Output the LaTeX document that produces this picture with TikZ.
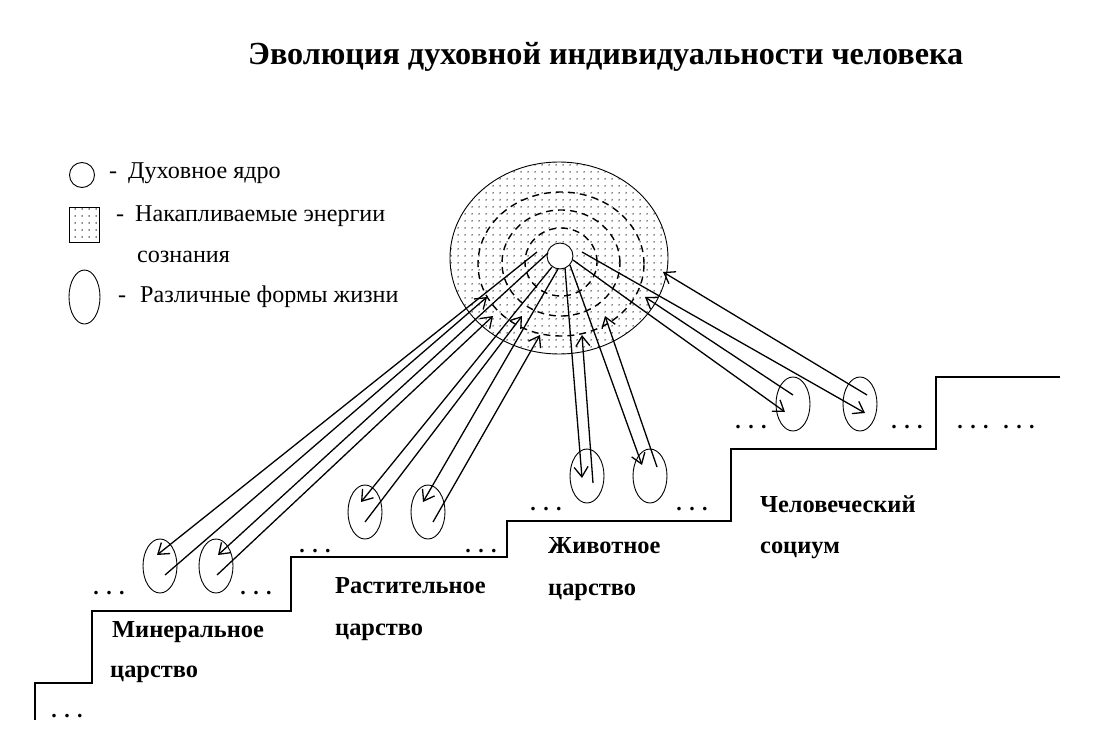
\documentclass[tikz,border=0pt]{standalone}
\usepackage{fontspec}
\setmainfont{Liberation Serif}
\usetikzlibrary{arrows.meta,shapes.geometric,patterns.meta}

\tikzdeclarepattern{
  name=sparsedots,
  type=uncolored,
  bounding box={(0,0) and (6.5bp,6.5bp)},
  tile size={(6.5bp,6.5bp)},
  code={\fill (3.25bp,3.25bp) circle (0.8bp);}
}

\begin{document}
\begin{tikzpicture}[x=1bp,y=-1bp,
  txt/.style={anchor=base west, inner sep=0, font=\fontsize{24.2}{28}\selectfont},
  lab/.style={anchor=base west, inner sep=0, font=\fontsize{24.5}{28}\selectfont\bfseries},
  dotsx/.style={anchor=base, inner sep=0, font=\fontsize{22}{26}\selectfont\bfseries},
  life/.style={ellipse, draw, line width=0.9bp, minimum width=34bp, minimum height=54bp, inner sep=0},
  arr/.style={line width=1.3bp, -{Straight Barb[length=10bp,width=14bp,line width=1.3bp]}},
  ring/.style={line width=1.4bp, dash pattern=on 7bp off 5bp},
  stair/.style={line width=1.6bp}
]
\useasboundingbox (0,0) rectangle (1097,747);

% title
\node[anchor=base west, inner sep=0, font=\fontsize{32.3}{36}\selectfont\bfseries] (title) at (248,65) {Эволюция духовной индивидуальности человека};

% legend
\node[circle, draw, line width=0.9bp, minimum size=25bp, inner sep=0] (lcore) at (82,175) {};
\node[txt] (ltext1) at (109,178) {-\hspace{11bp}Духовное ядро};
\node[draw, line width=0.9bp, pattern=sparsedots, minimum width=30bp, minimum height=35bp, inner sep=0] (lsq) at (84,224.5) {};
\node[txt] (ltext2) at (116,221) {-\hspace{11bp}Накапливаемые энергии};
\node[txt] (ltext3) at (137,262) {сознания};
\node[life, minimum width=31bp] (lell) at (84.5,297) {};
\node[txt] (ltext4) at (118,302) {-\hspace{14bp}Различные формы жизни};

% stairs
\draw[stair] (35,720) -- (35,683) -- (92,683) -- (92,611) -- (291,611) -- (291,557)
  -- (507,557) -- (507,521) -- (731,521) -- (731,449) -- (936,449) -- (936,377) -- (1060,377);

% accumulated energies and spiritual core
\draw[line width=0.9bp, pattern=sparsedots] (559,258) ellipse [x radius=109bp, y radius=96bp];
\draw[ring] (561,264) ellipse [x radius=83bp, y radius=72bp];
\draw[ring] (561,263) ellipse [x radius=59bp, y radius=53bp];
\draw[ring] (561,262) ellipse [x radius=36bp, y radius=34bp];
\node[circle, draw, fill=white, line width=0.9bp, minimum size=26bp, inner sep=0] (core) at (560,256) {};

% forms of life
\node[life] (e1) at (160,566) {};
\node[life] (e2) at (216,566) {};
\node[life] (e3) at (365,512) {};
\node[life] (e4) at (428,512) {};
\node[life] (e5) at (587,476) {};
\node[life] (e6) at (650,476) {};
\node[life] (e7) at (793,404) {};
\node[life] (e8) at (860,404) {};

% connector end points
\coordinate (o1) at (537,252); \coordinate (t1) at (157,555); \coordinate (s1) at (165,575); \coordinate (r1) at (487,297);
\coordinate (o2) at (548,253); \coordinate (t2) at (218,555); \coordinate (s2) at (217,575); \coordinate (r2) at (493,316);
\coordinate (o3) at (552,267); \coordinate (t3) at (361,502); \coordinate (s3) at (365,522); \coordinate (r3) at (522,316);
\coordinate (o4) at (558,269); \coordinate (t4) at (423,502); \coordinate (s4) at (433,522); \coordinate (r4) at (540,335);
\coordinate (o5) at (565,268); \coordinate (t5) at (582,478); \coordinate (s5) at (593,483); \coordinate (r5) at (582,335);
\coordinate (o6) at (570,265); \coordinate (t6) at (642,465); \coordinate (s6) at (657,467); \coordinate (r6) at (605,316);
\coordinate (o7) at (573,260); \coordinate (t7) at (785,412); \coordinate (s7) at (793,395); \coordinate (r7) at (645,297);
\coordinate (o8) at (582,252); \coordinate (t8) at (865,413); \coordinate (s8) at (867,395); \coordinate (r8) at (663,272);

\foreach \i in {1,...,8} {
  \draw[arr] (o\i) -- (t\i);
  \draw[arr] (s\i) -- (r\i);
}

% kingdom labels
\node[lab] (m1) at (112,637) {Минеральное};
\node[lab] (m2) at (110,677) {царство};
\node[lab] (p1) at (335,593) {Растительное};
\node[lab] (p2) at (335,635) {царство};
\node[lab] (a1) at (548,553) {Животное};
\node[lab] (a2) at (548,595) {царство};
\node[lab] (h1) at (760,512) {Человеческий};
\node[lab] (h2) at (760,553) {социум};

% ellipsis dots
\node[dotsx] (d1) at (67,717) {. . .};
\node[dotsx] (d2) at (109,594) {. . .};
\node[dotsx] (d3) at (256,594) {. . .};
\node[dotsx] (d4) at (315,552) {. . .};
\node[dotsx] (d5) at (481,552) {. . .};
\node[dotsx] (d6) at (546,510) {. . .};
\node[dotsx] (d7) at (692,510) {. . .};
\node[dotsx] (d8) at (751,428) {. . .};
\node[dotsx] (d9) at (907,428) {. . .};
\node[dotsx] (d10) at (973,428) {. . .};
\node[dotsx] (d11) at (1019,428) {. . .};
\end{tikzpicture}
\end{document}
